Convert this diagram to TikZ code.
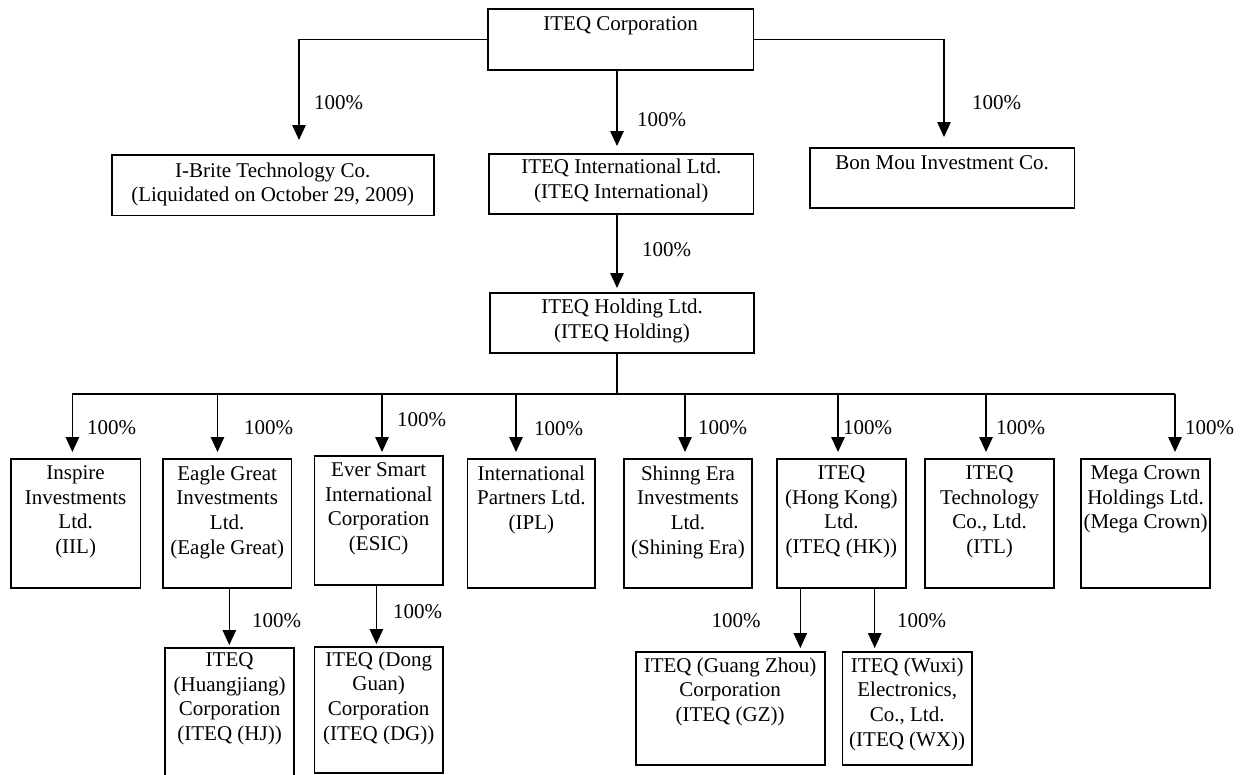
\documentclass[tikz,border=0pt]{standalone}
\usepackage{fontspec}
\setmainfont{Liberation Serif}
\usetikzlibrary{arrows.meta}
\begin{document}
\begin{tikzpicture}[x=1pt,y=-1pt,
  box/.style={draw, line width=1.8pt, inner sep=0pt, anchor=north west},
  txt/.style={anchor=north, inner sep=0pt, align=center, font=\fontsize{21}{24.6}\selectfont},
  pct/.style={anchor=west, inner sep=0pt, font=\fontsize{21}{24.6}\selectfont},
  con/.style={line width=1.4pt},
  arr/.style={line width=1.4pt, -{Triangle[width=13.5pt,length=15pt]}}]
\useasboundingbox (0,0) rectangle (1244,774);
\clip (0,0) rectangle (1244,774);
% boxes
\node[box, minimum width=265.5pt, minimum height=61pt] (corp) at (487,8) {};
\node[box, minimum width=322.3pt, minimum height=60.5pt] (ibrite) at (110.7,154) {};
\node[box, minimum width=264.2pt, minimum height=60pt] (intl) at (488.3,153) {};
\node[box, minimum width=264.6pt, minimum height=60pt] (bonmou) at (809,147) {};
\node[box, minimum width=264.3pt, minimum height=60pt] (hold) at (489,292) {};
\node[box, minimum width=129.7pt, minimum height=129pt] (iil) at (9.9,458) {};
\node[box, minimum width=128.6pt, minimum height=129pt] (eagle) at (162,458) {};
\node[box, minimum width=128.4pt, minimum height=129pt] (esic) at (313.6,455) {};
\node[box, minimum width=127.7pt, minimum height=129pt] (ipl) at (466.6,458) {};
\node[box, minimum width=128.5pt, minimum height=129pt] (shin) at (622.8,458) {};
\node[box, minimum width=129pt, minimum height=129pt] (hk) at (776,458) {};
\node[box, minimum width=128.6pt, minimum height=129pt] (itl) at (924.4,458) {};
\node[box, minimum width=128.6pt, minimum height=129pt] (mega) at (1080.4,458) {};
\node[box, minimum width=129.4pt, minimum height=150pt] (hj) at (164,647) {};
\node[box, minimum width=128.4pt, minimum height=126pt] (dg) at (313.6,646) {};
\node[box, minimum width=189pt, minimum height=113pt] (gz) at (634.7,651) {};
\node[box, minimum width=129.4pt, minimum height=113pt] (wx) at (841.6,651) {};
% texts
\node[txt] (corp-t) at ([yshift=-8.5pt]corp.north) {ITEQ Corporation};
\node[txt] (ibrite-t) at ([yshift=-8.5pt]ibrite.north) {I-Brite Technology Co.\\(Liquidated on October 29, 2009)};
\node[txt] (intl-t) at ([yshift=-6pt]intl.north) {ITEQ International Ltd.\\(ITEQ International)};
\node[txt] (bonmou-t) at ([yshift=-8pt]bonmou.north) {Bon Mou Investment Co.};
\node[txt] (hold-t) at ([yshift=-7pt]hold.north) {ITEQ Holding Ltd.\\(ITEQ Holding)};
\node[txt] (iil-t) at ([yshift=-7.5pt]iil.north) {Inspire\\Investments\\Ltd.\\(IIL)};
\node[txt] (eagle-t) at ([yshift=-7.5pt]eagle.north) {Eagle Great\\Investments\\Ltd.\\(Eagle Great)};
\node[txt] (esic-t) at ([yshift=-7.5pt]esic.north) {Ever Smart\\International\\Corporation\\(ESIC)};
\node[txt] (ipl-t) at ([yshift=-7.5pt]ipl.north) {International\\Partners Ltd.\\(IPL)};
\node[txt] (shin-t) at ([yshift=-7.5pt]shin.north) {Shinng Era\\Investments\\Ltd.\\(Shining Era)};
\node[txt] (hk-t) at ([yshift=-7.5pt]hk.north) {ITEQ\\(Hong Kong)\\Ltd.\\(ITEQ (HK))};
\node[txt] (itl-t) at ([yshift=-7.5pt]itl.north) {ITEQ\\Technology\\Co., Ltd.\\(ITL)};
\node[txt] (mega-t) at ([yshift=-7.5pt]mega.north) {Mega Crown\\Holdings Ltd.\\(Mega Crown)};
\node[txt] (hj-t) at ([yshift=-5.5pt]hj.north) {ITEQ\\(Huangjiang)\\Corporation\\(ITEQ (HJ))};
\node[txt] (dg-t) at ([yshift=-5.5pt]dg.north) {ITEQ (Dong\\Guan)\\Corporation\\(ITEQ (DG))};
\node[txt] (gz-t) at ([yshift=-6.5pt]gz.north) {ITEQ (Guang Zhou)\\Corporation\\(ITEQ (GZ))};
\node[txt] (wx-t) at ([yshift=-6.5pt]wx.north) {ITEQ (Wuxi)\\Electronics,\\Co., Ltd.\\(ITEQ (WX))};
% free ends
\coordinate (e-ibrite) at (299,140);
\coordinate (e-bonmou) at (944,137);
\coordinate (e-intl) at (617,146);
\coordinate (e-hold) at (617,288);
\coordinate (busL) at (72.4,394);
\coordinate (busR) at (1175,394);
\coordinate (busM) at (617,394);
\coordinate (d1) at (72.4,452);
\coordinate (d2) at (217.5,452);
\coordinate (d3) at (382,452);
\coordinate (d4) at (516,452);
\coordinate (d5) at (685,452);
\coordinate (d6) at (838,452);
\coordinate (d7) at (986,452);
\coordinate (d8) at (1175,452);
\coordinate (e-hj) at (229.3,645);
\coordinate (e-dg) at (376.4,644);
\coordinate (e-gz) at (800.3,648);
\coordinate (e-wx) at (874.7,648);
% connectors
\draw[arr] (corp.west) -| (e-ibrite);
\draw[arr] (corp.east) -| (e-bonmou);
\draw[arr] (corp.south -| e-intl) -- (e-intl);
\draw[arr] (intl.south -| e-hold) -- (e-hold);
\draw[con] (hold.south -| busM) -- (busM);
\draw[con] (busL) -- (busR);
\foreach \d in {d1,d2,d3,d4,d5,d6,d7,d8}{
  \draw[arr] (busL -| \d) -- (\d);
}
\draw[arr] (eagle.south -| e-hj) -- (e-hj);
\draw[arr] (esic.south -| e-dg) -- (e-dg);
\draw[arr] (hk.south -| e-gz) -- (e-gz);
\draw[arr] (hk.south -| e-wx) -- (e-wx);
% labels
\node[pct] (p1) at (314,103) {100\%};
\node[pct] (p2) at (972,103) {100\%};
\node[pct] (p3) at (637,120) {100\%};
\node[pct] (p4) at (642,250) {100\%};
\node[pct] (p5) at (87,428) {100\%};
\node[pct] (p6) at (244,428) {100\%};
\node[pct] (p7) at (397,420) {100\%};
\node[pct] (p8) at (534,429) {100\%};
\node[pct] (p9) at (698,428) {100\%};
\node[pct] (p10) at (843,428) {100\%};
\node[pct] (p11) at (996,428) {100\%};
\node[pct] (p12) at (1185,428) {100\%};
\node[pct] (p13) at (252,621) {100\%};
\node[pct] (p14) at (393,612) {100\%};
\node[pct] (p15) at (711.5,621) {100\%};
\node[pct] (p16) at (897,621) {100\%};
\end{tikzpicture}
\end{document}
